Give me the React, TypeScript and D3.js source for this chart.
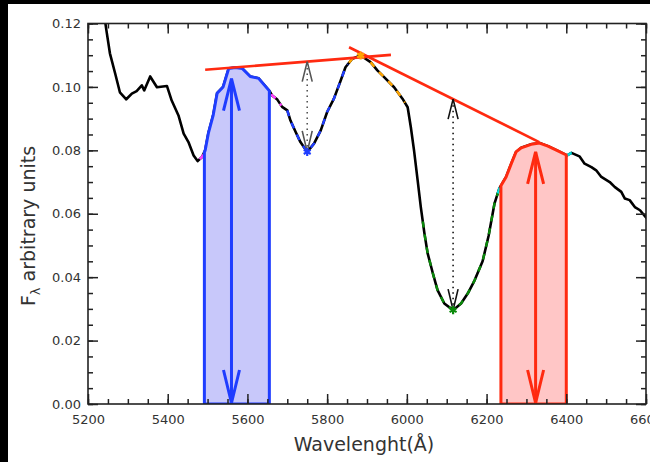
import React, { useEffect, useRef } from 'react';
import * as d3 from 'd3';

// spectrum
const wavelength = [
  5238, 5246, 5255, 5268, 5280, 5296, 5310, 5322, 5335, 5341, 5356, 5373, 5398, 5410, 5427, 5440,
  5452, 5465, 5475, 5486, 5494, 5502, 5514, 5524, 5539, 5553, 5570, 5587, 5607, 5628, 5656, 5662,
  5675, 5687, 5700, 5708, 5721, 5733, 5750, 5767, 5784, 5800, 5817, 5834, 5846, 5863, 5884, 5909,
  5926, 5943, 5968, 5989, 6002, 6010, 6018, 6027, 6035, 6044, 6052, 6065, 6077, 6094, 6116, 6136,
  6153, 6170, 6190, 6205, 6220, 6232, 6249, 6262, 6274, 6287, 6312, 6333, 6354, 6379, 6402, 6413,
  6433, 6446, 6463, 6475, 6488, 6509, 6522, 6538, 6547, 6559, 6572, 6585, 6602, 6615,
];
const flux = [
  0.125, 0.118, 0.1106, 0.1043, 0.0983, 0.0961, 0.0979, 0.0987, 0.1005, 0.0989, 0.1033, 0.0999, 0.1003, 0.0957, 0.091, 0.0853,
  0.0826, 0.0784, 0.0766, 0.0779, 0.08, 0.0854, 0.091, 0.098, 0.1, 0.1058, 0.1061, 0.1058, 0.1033, 0.1027, 0.0986, 0.0973,
  0.096, 0.0937, 0.0926, 0.0894, 0.0858, 0.0826, 0.0795, 0.0821, 0.0863, 0.0921, 0.0963, 0.102, 0.1062, 0.1089, 0.1099, 0.1078,
  0.1052, 0.1031, 0.0999, 0.0963, 0.0936, 0.0873, 0.08, 0.0706, 0.0621, 0.0539, 0.0476, 0.0413, 0.0359, 0.0317, 0.0296, 0.0317,
  0.0349, 0.039, 0.045, 0.053, 0.0633, 0.068, 0.0716, 0.0758, 0.0795, 0.0808, 0.0819, 0.0823, 0.0813, 0.0798, 0.0784, 0.0792,
  0.0781, 0.0758, 0.0747, 0.0737, 0.0716, 0.07, 0.0684, 0.0669, 0.0648, 0.0643, 0.0621, 0.0611, 0.0585, 0.057,
];

const blueBand = [5492, 5655];
const redBand = [6236, 6400];

// pseudo-continuum lines
const contALambda = [5494, 5960];
const contAFlux = [0.1054, 0.1101];
const contBLambda = [5855, 6332];
const contBFlux = [0.1125, 0.0826];

// feature markers: blue min, orange max, green min
const starLambda = [5750, 5884, 6116];
const starFlux = [0.0795, 0.1099, 0.0296];
const starColor = ['#1f3dff', '#ffa500', '#0a8a0a'];

// band arrows
const bandArrowLambda = [5560, 6323];
const bandArrowTop = [0.1026, 0.0795];

// colored dashed overlays on the spectrum
const dashRanges = [
  [5480, 5500], [5555, 5590], [5660, 5685], [5700, 5852], [5855, 5995],
  [6040, 6232], [6228, 6240], [6320, 6340], [6400, 6425],
];
const dashColors = [
  '#ff40ff', '#ff40ff', '#ff40ff', '#1f3dff', '#ffa500',
  '#0a8a0a', '#00e0e0', '#00e0e0', '#00e0e0',
];

const xMajor = d3.range(5200, 6601, 200);
const xMinor = d3.range(5200, 6601, 50);
const yMajor = [0, 0.02, 0.04, 0.06, 0.08, 0.1, 0.12];
const yMinor = d3.range(0, 0.1201, 0.005);

const App = () => {
  const svgRef = useRef<SVGSVGElement>(null);

  useEffect(() => {
    if (!svgRef.current) return;
    const svg = d3.select(svgRef.current);
    svg.selectAll('*').remove();

    const x = d3.scaleLinear().domain([5200, 6600]).range([88, 646]);
    const y = d3.scaleLinear().domain([0, 0.12]).range([404, 23.5]);

    const bis = d3.bisector((d: number) => d).left;
    const interp = (l: number) => {
      let i = bis(wavelength, l);
      if (i <= 0) i = 1;
      if (i >= wavelength.length) i = wavelength.length - 1;
      const t = (l - wavelength[i - 1]) / (wavelength[i] - wavelength[i - 1]);
      return flux[i - 1] + t * (flux[i] - flux[i - 1]);
    };
    const segment = (a: number, b: number) => {
      const pts: [number, number][] = [[a, interp(a)]];
      wavelength.forEach((w, i) => { if (w > a && w < b) pts.push([w, flux[i]]); });
      pts.push([b, interp(b)]);
      return pts;
    };

    const line = d3.line<[number, number]>().x((d) => x(d[0])).y((d) => y(d[1]));
    const pts = wavelength.map((w, i) => [w, flux[i]] as [number, number]);

    svg.append('rect').attr('width', 650).attr('height', 462).attr('fill', '#fff');

    svg.append('clipPath').attr('id', 'plotclip')
      .append('rect').attr('x', 88).attr('y', 23.5).attr('width', 558).attr('height', 380.5);

    const plot = svg.append('g').attr('clip-path', 'url(#plotclip)');

    // spectrum
    plot.append('path').attr('d', line(pts)).attr('fill', 'none')
      .attr('stroke', '#000').attr('stroke-width', 2.6).attr('stroke-linejoin', 'round');

    dashRanges.forEach((r, i) => {
      plot.append('path').attr('d', line(segment(r[0], r[1]))).attr('fill', 'none')
        .attr('stroke', dashColors[i]).attr('stroke-width', 2.4).attr('stroke-dasharray', '6 7');
    });

    // bands
    const band = (r: number[], fill: string, stroke: string) => {
      const p: [number, number][] = [[r[0], 0], ...segment(r[0], r[1]), [r[1], 0]];
      plot.append('path').attr('d', line(p) + 'Z').attr('fill', fill)
        .attr('stroke', stroke).attr('stroke-width', 3).attr('stroke-linejoin', 'round');
    };
    band(blueBand, '#c8c8fa', '#1f3dff');
    band(redBand, '#ffc6c6', '#ff2a10');

    // continuum lines
    [[contALambda, contAFlux], [contBLambda, contBFlux]].forEach(([ls, fs]) => {
      plot.append('line')
        .attr('x1', x(ls[0])).attr('y1', y(fs[0]))
        .attr('x2', x(ls[1])).attr('y2', y(fs[1]))
        .attr('stroke', '#ff2a10').attr('stroke-width', 2.6);
    });

    const contAt = (l: number, ls: number[], fs: number[]) =>
      fs[0] + (l - ls[0]) / (ls[1] - ls[0]) * (fs[1] - fs[0]);

    const vHead = (px: number, py: number, dir: number, len: number, hw: number) =>
      `M${px - hw},${py + dir * len}L${px},${py}L${px + hw},${py + dir * len}`;

    // depth arrows (dotted)
    const depth = [
      [starLambda[0], starFlux[0], contAt(starLambda[0], contALambda, contAFlux), '#555'],
      [starLambda[2], starFlux[2], contAt(starLambda[2], contBLambda, contBFlux), '#111'],
    ] as [number, number, number, string][];
    depth.forEach(([l, lo, hi, c]) => {
      const px = x(l);
      plot.append('line').attr('x1', px).attr('x2', px).attr('y1', y(lo)).attr('y2', y(hi))
        .attr('stroke', c).attr('stroke-width', 1.6).attr('stroke-dasharray', '1.5 4');
      plot.append('path').attr('d', vHead(px, y(hi), 1, 20, 5)).attr('fill', 'none')
        .attr('stroke', c).attr('stroke-width', 1.6);
      plot.append('path').attr('d', vHead(px, y(lo), -1, 21, 5)).attr('fill', 'none')
        .attr('stroke', c).attr('stroke-width', 1.6);
    });

    // band arrows
    bandArrowLambda.forEach((l, i) => {
      const c = i === 0 ? '#1f3dff' : '#ff2a10';
      const px = x(l);
      plot.append('line').attr('x1', px).attr('x2', px).attr('y1', y(0)).attr('y2', y(bandArrowTop[i]))
        .attr('stroke', c).attr('stroke-width', 3);
      plot.append('path').attr('d', vHead(px, y(bandArrowTop[i]), 1, 32, 8)).attr('fill', 'none')
        .attr('stroke', c).attr('stroke-width', 3);
      plot.append('path').attr('d', vHead(px, y(0) - 1, -1, 33, 8)).attr('fill', 'none')
        .attr('stroke', c).attr('stroke-width', 3);
    });

    // markers
    const star = d3.symbol().type(d3.symbolAsterisk).size(45);
    starLambda.forEach((l, i) => {
      plot.append('path').attr('d', star())
        .attr('transform', `translate(${x(l)},${y(starFlux[i])})`)
        .attr('fill', 'none').attr('stroke', starColor[i]).attr('stroke-width', 2.2);
    });

    // axes, ticks pointing inward on all four sides
    const axes = svg.append('g').attr('font-family', 'DejaVu Sans');
    const styleAxis = (g: any) => {
      g.select('.domain').remove();
      g.selectAll('line').attr('stroke', '#222').attr('stroke-width', 1.5);
      g.selectAll('text').attr('fill', '#333').attr('font-size', 13).attr('font-family', 'DejaVu Sans');
    };

    axes.append('g').attr('transform', 'translate(0,404)')
      .call(d3.axisBottom(x).tickValues(xMajor).tickSize(-10).tickPadding(11).tickFormat(d3.format('d')))
      .call(styleAxis);
    axes.append('g').attr('transform', 'translate(0,404)')
      .call(d3.axisBottom(x).tickValues(xMinor).tickSize(-5).tickFormat(() => ''))
      .call(styleAxis);
    axes.append('g').attr('transform', 'translate(0,23.5)')
      .call(d3.axisTop(x).tickValues(xMajor).tickSize(-10).tickFormat(() => ''))
      .call(styleAxis);
    axes.append('g').attr('transform', 'translate(0,23.5)')
      .call(d3.axisTop(x).tickValues(xMinor).tickSize(-5).tickFormat(() => ''))
      .call(styleAxis);

    axes.append('g').attr('transform', 'translate(88,0)')
      .call(d3.axisLeft(y).tickValues(yMajor).tickSize(-10).tickPadding(7).tickFormat(d3.format('.2f')))
      .call(styleAxis);
    axes.append('g').attr('transform', 'translate(88,0)')
      .call(d3.axisLeft(y).tickValues(yMinor).tickSize(-5).tickFormat(() => ''))
      .call(styleAxis);
    axes.append('g').attr('transform', 'translate(646,0)')
      .call(d3.axisRight(y).tickValues(yMajor).tickSize(-10).tickFormat(() => ''))
      .call(styleAxis);
    axes.append('g').attr('transform', 'translate(646,0)')
      .call(d3.axisRight(y).tickValues(yMinor).tickSize(-5).tickFormat(() => ''))
      .call(styleAxis);

    svg.append('rect').attr('x', 88).attr('y', 23.5).attr('width', 558).attr('height', 380.5)
      .attr('fill', 'none').attr('stroke', '#222').attr('stroke-width', 1.6);

    // titles
    svg.append('text').attr('x', 364).attr('y', 451).attr('text-anchor', 'middle')
      .attr('font-family', 'DejaVu Sans').attr('font-size', 19).attr('fill', '#333')
      .text('Wavelenght(Å)');

    const yt = svg.append('text').attr('transform', 'translate(35,226) rotate(-90)')
      .attr('text-anchor', 'middle').attr('font-family', 'DejaVu Sans')
      .attr('font-size', 19).attr('fill', '#333');
    yt.append('tspan').text('F');
    yt.append('tspan').attr('font-size', 13).attr('dy', 5).text('λ');
    yt.append('tspan').attr('dy', -5).text('  arbitrary units');

    // black frame strips from the original capture
    svg.append('rect').attr('x', 0).attr('y', 0).attr('width', 650).attr('height', 4).attr('fill', '#000');
    svg.append('rect').attr('x', 0).attr('y', 0).attr('width', 8).attr('height', 462).attr('fill', '#000');
  }, []);

  return (
    <div style={{ position: 'absolute', left: 0, top: 0 }}>
      <svg ref={svgRef} width={650} height={462} style={{ display: 'block' }}></svg>
    </div>
  );
};

export default App;
